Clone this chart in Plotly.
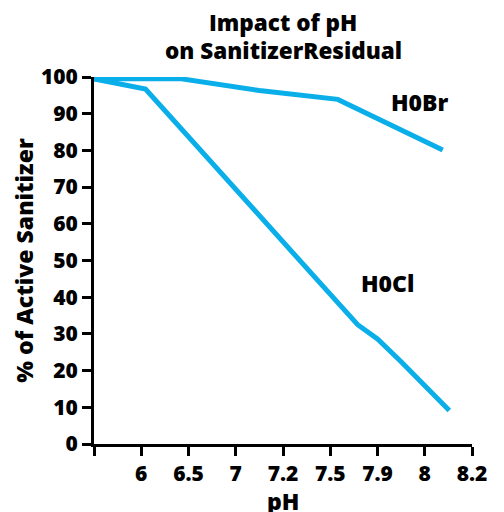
import plotly.graph_objects as go

# x positions are in category-index units (0..8) on an evenly spaced pH axis
tick_labels = ["", "6", "6.5", "7", "7.2", "7.5", "7.9", "8", "8.2"]
tick_positions = [0, 1, 2, 3, 4, 5, 6, 7, 8]

hobr_x = [0, 1.85, 3.5, 5.16, 7.38]
hobr_y = [99.5, 99.5, 96.3, 93.9, 80.1]

hocl_x = [0, 1.09, 5.58, 6.0, 6.5, 7.52]
hocl_y = [99.5, 96.7, 32.5, 28.6, 22.4, 9.1]

y_ticks = [0, 10, 20, 30, 40, 50, 60, 70, 80, 90, 100]

title_lines = ["Impact of pH", "on SanitizerResidual"]
x_title = "pH"
y_title = "% of Active Sanitizer"

line_color = "#0AAEE9"
FONT = "Open Sans"
W = 800

def f(size):
    return dict(family=FONT, size=size, color="black", weight=W)

PLOT_H = 367.3
PLOT_TOP = 69

fig = go.Figure()
fig.add_trace(go.Scatter(x=hobr_x, y=hobr_y, mode="lines", name="H0Br",
                         line=dict(color=line_color, width=5), cliponaxis=False))
fig.add_trace(go.Scatter(x=hocl_x, y=hocl_y, mode="lines", name="H0Cl",
                         line=dict(color=line_color, width=5), cliponaxis=False))

fig.add_annotation(x=6.89, y=93.2, text="H0Br", showarrow=False, font=f(23))
fig.add_annotation(x=6.21, y=43.9, text="H0Cl", showarrow=False, font=f(23))

# two-line title as annotations (paper coords)
fig.add_annotation(x=0.5, xref="paper", y=1 + (77 - 22) / PLOT_H, yref="paper",
                   text=title_lines[0], showarrow=False, font=f(22.5), yanchor="middle")
fig.add_annotation(x=0.5, xref="paper", y=1 + (77 - 50) / PLOT_H, yref="paper",
                   text=title_lines[1], showarrow=False, font=f(22.5), yanchor="middle")

# x-axis title as annotation, placed a little below the tick labels
fig.add_annotation(x=0.5, xref="paper", y=(PLOT_TOP + PLOT_H - 475) / PLOT_H, yref="paper",
                   text=x_title, showarrow=False, font=f(23), yanchor="top")

fig.update_layout(
    width=496, height=504,
    margin=dict(l=86, r=31.6, t=PLOT_TOP, b=504 - PLOT_TOP - PLOT_H, autoexpand=False),
    paper_bgcolor="white", plot_bgcolor="white",
    showlegend=False,
    font=f(21),
    xaxis=dict(range=[0, 8], tickmode="array", tickvals=tick_positions, ticktext=tick_labels,
               automargin=False,
               showline=True, linecolor="black", linewidth=3, showgrid=False, zeroline=False,
               ticks="outside", ticklen=9, tickwidth=3, tickcolor="black",
               tickfont=f(21)),
    yaxis=dict(range=[0, 100], tickmode="array", tickvals=y_ticks,
               automargin=False,
               showline=True, linecolor="black", linewidth=3, showgrid=False, zeroline=False,
               ticks="outside", ticklen=9, tickwidth=3, tickcolor="black",
               tickfont=f(21),
               title=dict(text=y_title, standoff=6, font=f(23))),
)

fig.write_html("out.html")
